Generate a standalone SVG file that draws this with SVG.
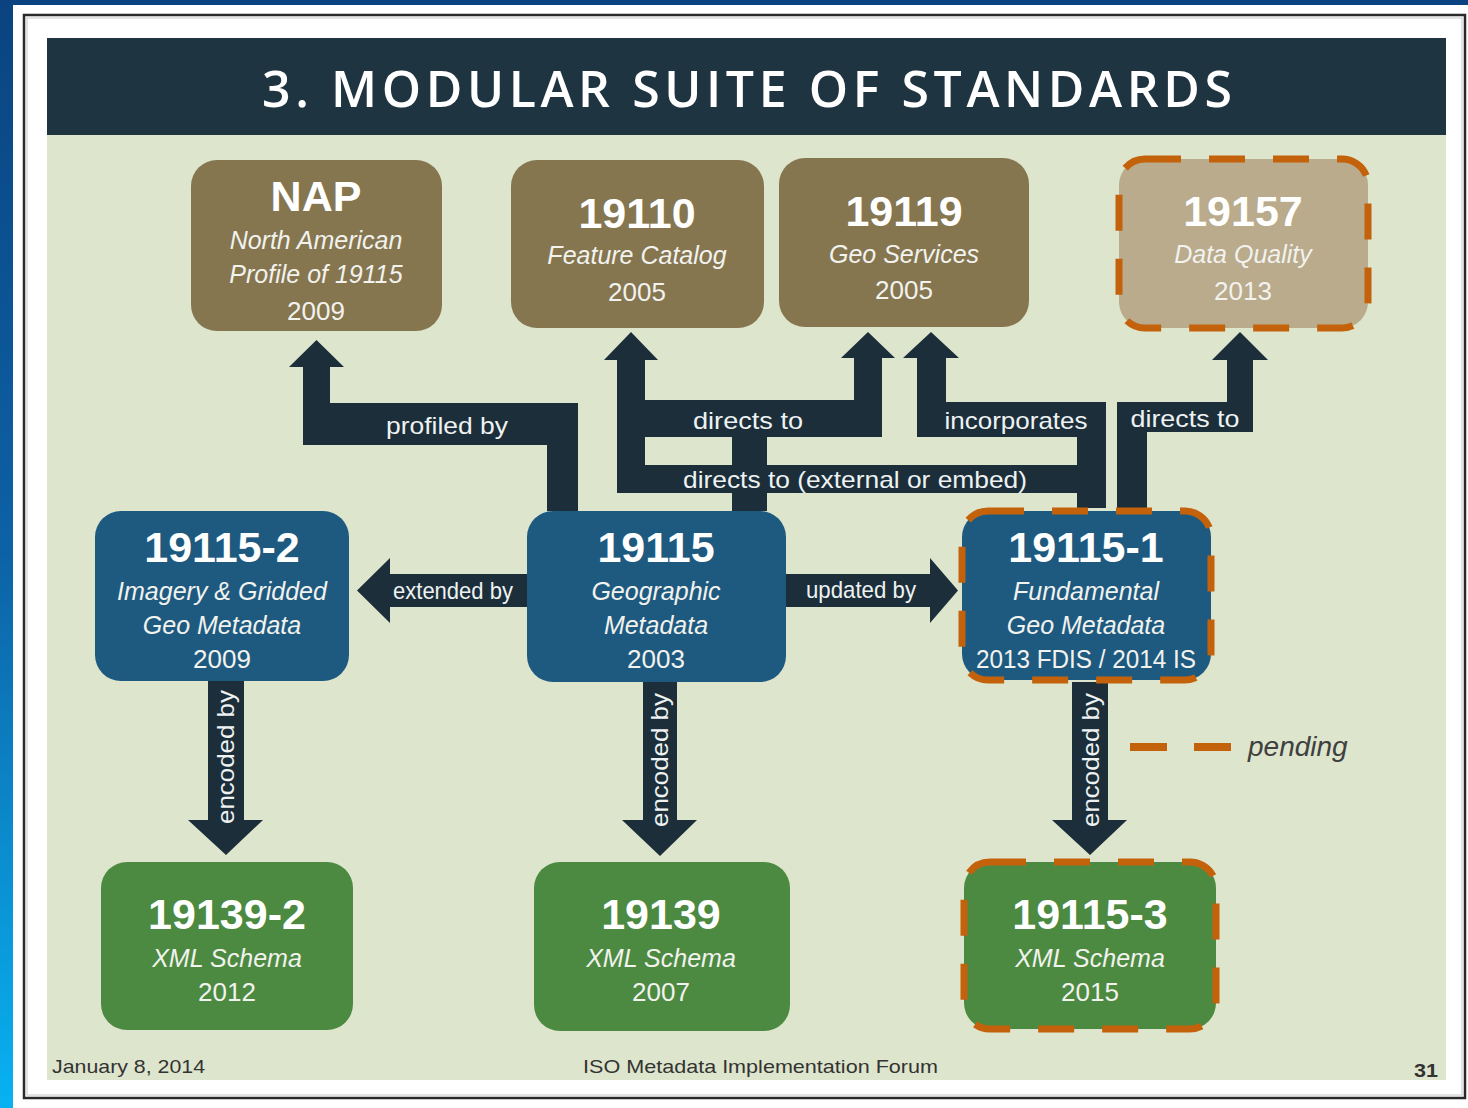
<svg xmlns="http://www.w3.org/2000/svg" width="1468" height="1108" viewBox="0 0 1468 1108">
<defs>
<linearGradient id="bgGrad" x1="0" y1="0" x2="0" y2="1">
<stop offset="0" stop-color="#0a4380"/>
<stop offset="0.5" stop-color="#0d62a6"/>
<stop offset="1" stop-color="#08b2f2"/>
</linearGradient>
</defs>
<style>
.arrow{fill:#1b2e3a}
.brown{fill:#857650}
.tan{fill:#b9ab8b}
.blue{fill:#1e5a80}
.green{fill:#4b8a40}
.pending{stroke:#c4620c;stroke-width:7;stroke-dasharray:36 28}
.num{font-family:"Liberation Sans",Arial,sans-serif;font-weight:bold;font-size:43px;fill:#ffffff;text-anchor:middle}
.sub{font-family:"Liberation Sans",Arial,sans-serif;font-style:italic;font-size:25px;fill:#f2f2ee;text-anchor:middle}
.yr{font-family:"Liberation Sans",Arial,sans-serif;font-size:26px;fill:#f2f2ee;text-anchor:middle}
.lbl{font-family:"Liberation Sans",Arial,sans-serif;font-size:24px;fill:#eef2f2;text-anchor:middle}
.foot{font-family:"Liberation Sans",Arial,sans-serif;font-size:19px;fill:#333333}
</style>

<!-- background and slide frame -->
<rect x="0" y="0" width="1468" height="1108" fill="url(#bgGrad)"/>
<rect x="13" y="5" width="1455" height="1103" fill="#ffffff"/>
<rect x="24" y="15" width="1441" height="1083" fill="none" stroke="#2a2a2a" stroke-width="2.5"/>
<rect x="27" y="18" width="1435" height="1077" fill="none" stroke="#c8c8c8" stroke-width="1"/>
<rect x="47" y="135" width="1399" height="945" fill="#dde5cc"/>
<rect x="47" y="38" width="1399" height="97" fill="#1f3441"/>
<text x="747" y="107" font-family="'Open Sans','Liberation Sans',sans-serif" font-weight="600" font-size="50" fill="#ffffff" text-anchor="middle" textLength="970" lengthAdjust="spacing">3. MODULAR SUITE OF STANDARDS</text>

<!-- connectors -->
<g id="connectors">
<polygon id="profiled-by" class="arrow" points="547,511 547,445 303,445 303,367 289,367 316.5,340 344,367 330,367 330,403 578,403 578,511"/>
<polygon id="directs-to-19110-19119" class="arrow" points="732,511 732,437 617,437 617,360 604,360 631,332 658,360 645,360 645,400 854,400 854,358 841,358 868,332 895,358 882,358 882,437 767,437 767,511"/>
<rect id="directs-external-v" class="arrow" x="617" y="436" width="28" height="57"/>
<rect id="directs-external-h" class="arrow" x="617" y="465" width="489" height="28"/>
<polygon id="incorporates" class="arrow" points="1077,508 1077,437 917,437 917,358 903,358 931,332 959,358 946,358 946,402 1106,402 1106,508"/>
<polygon id="directs-to-19157" class="arrow" points="1117,508 1117,402 1227,402 1227,360 1212,360 1240,332 1268,360 1253,360 1253,432 1147,432 1147,508"/>
<polygon id="extended-by" class="arrow" points="527,574 390,574 390,558 357,590.5 390,623 390,607 527,607"/>
<polygon id="updated-by" class="arrow" points="786,574 930,574 930,558 958,590.5 930,623 930,607 786,607"/>
<polygon id="encoded-left" class="arrow" points="208,681 244,681 244,820 263,820 226,855 188,820 208,820"/>
<polygon id="encoded-mid" class="arrow" points="643,682 677,682 677,820 697,820 660,856 622,820 643,820"/>
<polygon id="encoded-right" class="arrow" points="1072,682 1108,682 1108,820 1127,820 1090,855 1052,820 1072,820"/>

<text class="lbl" x="447" y="434" textLength="122" lengthAdjust="spacingAndGlyphs">profiled by</text>
<text class="lbl" x="748" y="429" textLength="110" lengthAdjust="spacingAndGlyphs">directs to</text>
<text class="lbl" x="855" y="488" textLength="344" lengthAdjust="spacingAndGlyphs">directs to (external or embed)</text>
<text class="lbl" x="1016" y="429" textLength="143" lengthAdjust="spacingAndGlyphs">incorporates</text>
<text class="lbl" x="1185" y="427" textLength="109" lengthAdjust="spacingAndGlyphs">directs to</text>
<text class="lbl" x="453" y="599" font-size="21" textLength="120" lengthAdjust="spacingAndGlyphs">extended by</text>
<text class="lbl" x="861" y="598" font-size="21" textLength="110" lengthAdjust="spacingAndGlyphs">updated by</text>
<text class="lbl" transform="translate(234,757) rotate(-90)" font-size="25" textLength="134" lengthAdjust="spacingAndGlyphs">encoded by</text>
<text class="lbl" transform="translate(668,760) rotate(-90)" font-size="25" textLength="134" lengthAdjust="spacingAndGlyphs">encoded by</text>
<text class="lbl" transform="translate(1099,760) rotate(-90)" font-size="25" textLength="134" lengthAdjust="spacingAndGlyphs">encoded by</text>
</g>

<!-- nodes -->
<g id="node-nap">
<rect class="brown" x="191" y="160" width="251" height="171" rx="26"/>
<text class="num" x="316" y="211" font-size="41">NAP</text>
<text class="sub" x="316" y="249">North American</text>
<text class="sub" x="316" y="283">Profile of 19115</text>
<text class="yr" x="316" y="320">2009</text>
</g>
<g id="node-19110">
<rect class="brown" x="511" y="160" width="253" height="168" rx="26"/>
<text class="num" x="637" y="228">19110</text>
<text class="sub" x="637" y="264">Feature Catalog</text>
<text class="yr" x="637" y="301">2005</text>
</g>
<g id="node-19119">
<rect class="brown" x="779" y="158" width="250" height="169" rx="26"/>
<text class="num" x="904" y="226">19119</text>
<text class="sub" x="904" y="263">Geo Services</text>
<text class="yr" x="904" y="299">2005</text>
</g>
<g id="node-19157">
<rect class="tan pending" x="1119" y="159" width="249" height="169" rx="26"/>
<text class="num" x="1243" y="226">19157</text>
<text class="sub" x="1243" y="263">Data Quality</text>
<text class="yr" x="1243" y="300">2013</text>
</g>
<g id="node-19115-2">
<rect class="blue" x="95" y="511" width="254" height="170" rx="26"/>
<text class="num" x="222" y="562">19115-2</text>
<text class="sub" x="222" y="600">Imagery &amp; Gridded</text>
<text class="sub" x="222" y="634">Geo Metadata</text>
<text class="yr" x="222" y="668">2009</text>
</g>
<g id="node-19115">
<rect class="blue" x="527" y="511" width="259" height="171" rx="26"/>
<text class="num" x="656" y="562">19115</text>
<text class="sub" x="656" y="600">Geographic</text>
<text class="sub" x="656" y="634">Metadata</text>
<text class="yr" x="656" y="668">2003</text>
</g>
<g id="node-19115-1">
<rect class="blue pending" x="962" y="511" width="249" height="169" rx="26"/>
<text class="num" x="1086" y="562">19115-1</text>
<text class="sub" x="1086" y="600">Fundamental</text>
<text class="sub" x="1086" y="634">Geo Metadata</text>
<text class="yr" x="1086" y="668" font-size="24" textLength="220" lengthAdjust="spacingAndGlyphs">2013 FDIS / 2014 IS</text>
</g>
<g id="node-19139-2">
<rect class="green" x="101" y="862" width="252" height="168" rx="26"/>
<text class="num" x="227" y="929">19139-2</text>
<text class="sub" x="227" y="967">XML Schema</text>
<text class="yr" x="227" y="1001">2012</text>
</g>
<g id="node-19139">
<rect class="green" x="534" y="862" width="256" height="169" rx="26"/>
<text class="num" x="661" y="929">19139</text>
<text class="sub" x="661" y="967">XML Schema</text>
<text class="yr" x="661" y="1001">2007</text>
</g>
<g id="node-19115-3">
<rect class="green pending" x="964" y="862" width="252" height="167" rx="26"/>
<text class="num" x="1090" y="929">19115-3</text>
<text class="sub" x="1090" y="967">XML Schema</text>
<text class="yr" x="1090" y="1001">2015</text>
</g>

<!-- legend -->
<g id="legend">
<line x1="1130" y1="747" x2="1232" y2="747" stroke="#c4620c" stroke-width="8" stroke-dasharray="37 27"/>
<text x="1248" y="756" font-family="'Liberation Sans',Arial,sans-serif" font-style="italic" font-size="28" fill="#404040">pending</text>
</g>

<!-- footer -->
<text class="foot" x="52" y="1073" textLength="153" lengthAdjust="spacingAndGlyphs">January 8, 2014</text>
<text class="foot" x="583" y="1073" textLength="355" lengthAdjust="spacingAndGlyphs">ISO Metadata Implementation Forum</text>
<text class="foot" x="1414" y="1077" font-weight="bold" textLength="24" lengthAdjust="spacingAndGlyphs">31</text>
</svg>
